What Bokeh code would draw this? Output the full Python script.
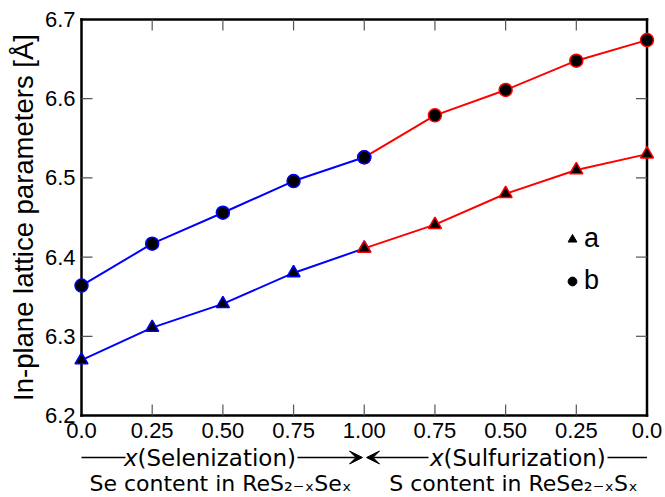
import math
from bokeh.plotting import figure
from bokeh.models import Range1d, Arrow, VeeHead, Legend, LegendItem
from bokeh.core.properties import value
from bokeh.embed import file_html
from bokeh.resources import INLINE

# ---- data -------------------------------------------------------------
tick_labels = ["0.0", "0.25", "0.50", "0.75", "1.00", "0.75", "0.50", "0.25", "0.0"]
a_values = [6.270, 6.311, 6.341, 6.380, 6.411, 6.441, 6.480, 6.510, 6.530]
b_values = [6.364, 6.417, 6.456, 6.496, 6.526, 6.579, 6.611, 6.648, 6.674]
y_ticks = [6.2, 6.3, 6.4, 6.5, 6.6, 6.7]
y_tick_labels = ["6.2", "6.3", "6.4", "6.5", "6.6", "6.7"]
joint = 4  # position of x = 1.00 where selenization meets sulfurization
positions = list(range(len(tick_labels)))

BLUE = "#0000ff"
RED = "#ff0000"
TICK_FONT = "Liberation Sans"
ANN_FONT = "DejaVu Sans"

# ---- layout (canvas pixels) ---------------------------------------------
W, H = 665, 497
BOX_L, BOX_R, BOX_T, BOX_B = 81, 646.5, 19, 415
TICK = 11
xmax = len(tick_labels) - 1
ppx = (BOX_R - BOX_L) / xmax
ppy = (BOX_B - BOX_T) / (y_ticks[-1] - y_ticks[0])

def X(px):   # canvas x -> data x
    return (px - BOX_L) / ppx

def Y(py):   # canvas y (from top) -> data y
    return y_ticks[0] + (BOX_B - py) / ppy

p = figure(width=W, height=H, output_backend="svg", toolbar_location=None,
           x_range=Range1d(X(0), X(W)), y_range=Range1d(Y(H), Y(0)),
           min_border=0)
p.axis.visible = False
p.grid.visible = False
p.outline_line_color = None

sel_x, sel_a, sel_b = positions[:joint + 1], a_values[:joint + 1], b_values[:joint + 1]
sul_x, sul_a, sul_b = positions[joint:], a_values[joint:], b_values[joint:]

# plain black markers (also used as legend glyphs)
la = p.scatter(positions, a_values, marker="triangle", size=10, fill_color="black", line_color="black")
lb = p.scatter(positions, b_values, marker="circle", size=11, fill_color="black", line_color="black")

for xs, ys, c in [(sel_x, sel_a, BLUE), (sel_x, sel_b, BLUE), (sul_x, sul_a, RED), (sul_x, sul_b, RED)]:
    p.line(xs, ys, line_color=c, line_width=2)

# plot box: four filled bars
lo, hi = y_ticks[0], y_ticks[-1]
hx, hy = 1.25 / ppx, 1.25 / ppy
p.quad(left=[-hx, -hx, -hx, xmax - hx], right=[xmax + hx, xmax + hx, hx, xmax + hx],
       bottom=[lo - hy, hi - hy, lo - hy, lo - hy], top=[lo + hy, hi + hy, hi + hy, hi + hy],
       fill_color="black", line_color=None)

# inward ticks on all four sides (thin filled bars)
ix = positions[1:-1]
iy = y_ticks[1:-1]
tw_x, tw_y = 0.6 / ppx, 0.6 / ppy
tl, tr, tb, tt = [], [], [], []
for x in ix:
    tl += [x - tw_x, x - tw_x]
    tr += [x + tw_x, x + tw_x]
    tb += [lo, hi - TICK / ppy]
    tt += [lo + TICK / ppy, hi]
for y in iy:
    tl += [0, xmax - TICK / ppx]
    tr += [TICK / ppx, xmax]
    tb += [y - tw_y, y - tw_y]
    tt += [y + tw_y, y + tw_y]
p.quad(left=tl, right=tr, bottom=tb, top=tt, fill_color="#555555", line_color=None)

p.scatter(sel_x, sel_a, marker="triangle", size=13, fill_color="black", line_color=BLUE, line_width=1.5)
p.scatter(sul_x, sul_a, marker="triangle", size=13, fill_color="black", line_color=RED, line_width=1.5)
p.scatter(sul_x, sul_b, marker="circle", size=13, fill_color="black", line_color=RED, line_width=1.5)
p.scatter(sel_x, sel_b, marker="circle", size=13, fill_color="black", line_color=BLUE, line_width=1.5)

# tick labels and axis title
p.text(x=positions, y=[Y(430)] * len(positions), text=tick_labels,
       text_align="center", text_baseline="middle", text_font=value(TICK_FONT),
       text_font_size=value("22px"), text_color="black")
p.text(x=[X(BOX_L - 6)] * len(y_ticks), y=y_ticks, text=y_tick_labels,
       text_align="right", text_baseline="middle", text_font=value(TICK_FONT),
       text_font_size=value("22px"), text_color="black")
p.text(x=[X(23)], y=[(y_ticks[0] + y_ticks[-1]) / 2], text=["In-plane lattice parameters [Å]"],
       angle=math.pi / 2, text_align="center", text_baseline="middle",
       text_font=value(TICK_FONT), text_font_size=value("27.5px"), text_color="black")

legend = Legend(items=[LegendItem(label="a", renderers=[la]), LegendItem(label="b", renderers=[lb])],
                location=(561, 201), background_fill_alpha=0, border_line_alpha=0,
                label_text_font=TICK_FONT, label_text_font_size="27px", label_text_color="black",
                glyph_width=22, glyph_height=22, label_height=24, label_standoff=1, spacing=11,
                padding=0, margin=0)
p.add_layout(legend)

# ---- annotation rows below the axis ------------------------------------
row1 = Y(457)
row2 = Y(483)

def txt(xs, y, texts, align, size, style="normal"):
    p.text(x=xs, y=[y] * len(xs), text=texts, text_align=align, text_baseline="middle",
           text_font=value(ANN_FONT), text_font_size=value(size),
           text_font_style=style, text_color="black")

anchors = [X(137), X(443)]
txt(anchors, row1, ["x", "x"], "right", "23px", "italic")
txt(anchors, row1, ["(Selenization)", "(Sulfurization)"], "left", "23px")
p.segment(x0=[0, X(607)], y0=[row1, row1], x1=[X(125), xmax], y1=[row1, row1],
          line_color="black", line_width=1.5)
for xs, xe in [(X(297), X(362)), (X(428), X(366))]:
    p.add_layout(Arrow(x_start=xs, y_start=row1, x_end=xe, y_end=row1,
                       end=VeeHead(size=13, fill_color="black", line_color="black"),
                       line_color="black", line_width=1.5))

txt([X(220), X(513)], row2,
    ["Se content in ReS\u2082\u208b\u2093Se\u2093", "S content in ReSe\u2082\u208b\u2093S\u2093"],
    "center", "22px")

open("out.html", "w").write(file_html(p, INLINE))
